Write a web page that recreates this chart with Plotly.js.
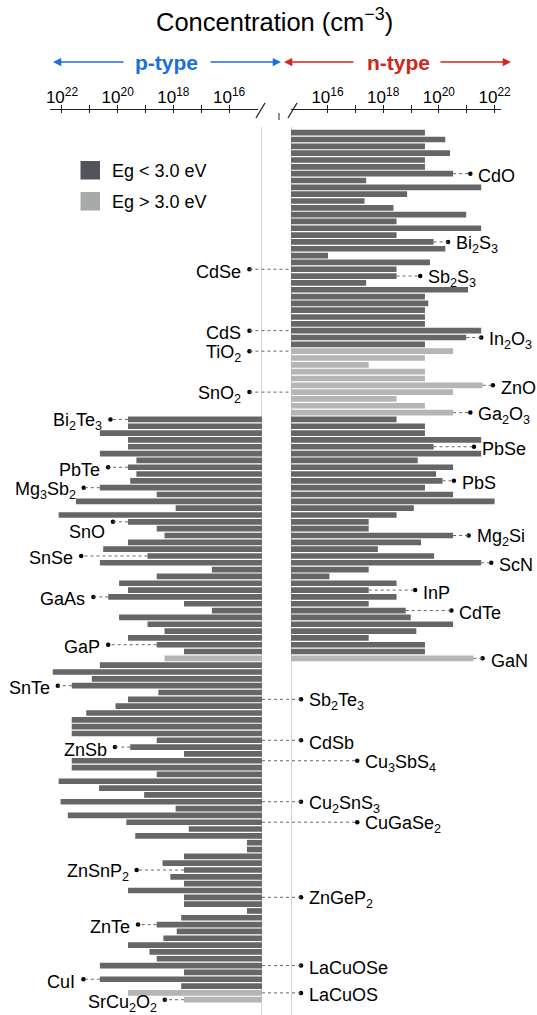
<!DOCTYPE html>
<html><head><meta charset="utf-8">
<script src="https://cdn.plot.ly/plotly-3.0.1.min.js"></script>
<style>html,body{margin:0;padding:0;background:#fff}#chart{width:537px;height:1015px}</style>
</head><body><div id="chart"></div>
<script>
// ---------- DATA (log10 of carrier concentration, cm^-3) ----------
// Row numbers run top to bottom (1..128). null = no bar on that side.
const nExp = [
 19.50,20.23,19.50,20.40,19.50,19.50,20.51,17.39,21.52,18.86,
 17.33,18.37,20.98,18.48,21.52,18.48,19.81,20.23,16.02,19.68,
 18.48,18.48,17.39,21.05,19.50,19.62,19.50,19.50,19.50,21.52,
 20.98,19.50,20.51,19.50,17.48,19.50,19.50,21.57,20.51,18.48,
 19.50,20.51,18.48,19.50,19.50,21.52,19.81,21.52,19.24,20.51,
 19.90,20.13,19.50,20.51,22.00,19.10,18.48,17.48,17.48,20.51,
 19.36,17.81,19.83,21.52,17.48,16.07,18.48,17.48,18.48,17.48,
 18.81,18.99,20.51,19.19,17.48,19.50,19.50,21.24,null,null,
 null,null,null,null,null,null,null,null,null,null,
 null,null,null,null,null,null,null,null,null,null,
 null,null,null,null,null,null,null,null,null,null,
 null,null,null,null,null,null,null,null,null,null,
 null,null,null,null,null,null,null,null
];
const pExp = [
 null,null,null,null,null,null,null,null,null,null,
 null,null,null,null,null,null,null,null,null,null,
 null,null,null,null,null,null,null,null,null,null,
 null,null,null,null,null,null,null,null,null,null,
 null,null,19.63,19.63,20.64,19.63,19.63,20.64,19.33,19.63,
 19.33,19.55,20.64,18.60,21.50,17.92,22.12,19.63,18.60,18.32,
 19.63,20.52,18.93,20.64,16.62,18.60,19.95,19.63,20.34,17.62,
 16.62,19.95,18.93,18.32,19.63,18.60,17.62,18.32,20.64,22.33,
 20.93,21.65,18.54,19.63,20.08,21.13,21.65,21.65,21.65,18.60,
 19.55,17.62,21.65,21.65,18.60,22.12,20.67,19.05,22.05,17.92,
 21.79,19.69,17.45,19.37,15.36,15.36,17.62,18.39,17.62,18.11,
 17.62,19.63,17.62,17.62,15.36,17.72,18.60,17.88,18.36,19.63,
 18.86,18.60,20.64,17.62,20.64,17.72,19.63,17.62
];
// rows whose material has Eg > 3.0 eV
const wideGapRows = [33,34,35,36,37,38,39,40,41,42,78,127,128];

// axis ticks (exponents)
const labelTickExp = [16,18,20,22];
const labelTickText = labelTickExp.map(e => '10<sup>' + e + '</sup>');
const minorTickExp = [17,19,21];
const allTickExp = [16,17,18,19,20,21,22];

// labelled materials
const labelNames = [
 'CdO','Bi<sub>2</sub>S<sub>3</sub>','Sb<sub>2</sub>S<sub>3</sub>','In<sub>2</sub>O<sub>3</sub>','ZnO',
 'Ga<sub>2</sub>O<sub>3</sub>','PbSe','PbS','Mg<sub>2</sub>Si','ScN','InP','CdTe','GaN',
 'CdSe','CdS','TiO<sub>2</sub>','SnO<sub>2</sub>',
 'Bi<sub>2</sub>Te<sub>3</sub>','PbTe','Mg<sub>3</sub>Sb<sub>2</sub>','SnO','SnSe','GaAs','GaP','SnTe',
 'ZnSb','ZnSnP<sub>2</sub>','ZnTe','CuI','SrCu<sub>2</sub>O<sub>2</sub>',
 'Sb<sub>2</sub>Te<sub>3</sub>','CdSb','Cu<sub>3</sub>SbS<sub>4</sub>','Cu<sub>2</sub>SnS<sub>3</sub>',
 'CuGaSe<sub>2</sub>','ZnGeP<sub>2</sub>','LaCuOSe','LaCuOS'
];
const labelRows = [
 7,17,22,31,38,42,47,52,60,64,68,71,78,
 21,30,33,39,
 43,50,53,58,63,69,76,82,91,109,117,125,128,
 84,90,93,99,102,113,123,127
];

// ---------- STYLE (label placement) ----------
// side: nR = n bar, text right; nL = n bar, text left; pL = p bar, text left; pR = p bar, text right
const labelSide = [
 'nR','nR','nR','nR','nR','nR','nR','nR','nR','nR','nR','nR','nR',
 'nL','nL','nL','nL',
 'pL','pL','pL','pL','pL','pL','pL','pL','pL','pL','pL','pL','pL',
 'pR','pR','pR','pR','pR','pR','pR','pR'
];
// leader end (dot) position, in exponent units of the axis on that side
const labelDot = [
 21.13,20.33,19.33,21.52,21.94,21.13,21.26,20.54,21.07,21.88,19.15,20.45,21.57,
 15.27,15.27,15.27,15.27,
 20.26,20.34,21.22,20.17,21.31,20.87,20.34,22.15,20.10,19.32,19.27,21.23,18.31,
 15.05,15.05,17.07,15.05,17.07,15.05,15.05,15.05
];
const labelDy = labelNames.map((n,i) => labelRows[i]===58 && labelSide[i]==='pL' ? -8 : (labelRows[i]===128 ? -1 : 0));

const W = 537, H = 1015, T = 110;
const FONT = 'Liberation Sans, Arial, Helvetica, sans-serif';
const L_DOM = [50, 262], R_DOM = [291, 500.7];
const L_RANGE = [22.43, 14.82], R_RANGE = [14.69, 22.22];
const baseL = L_RANGE[1], baseR = R_RANGE[0];
const DARK = '#666666', LIGHT = '#b5b5b5';

function pxL(e){ return L_DOM[0] + (e - L_RANGE[0]) / (L_RANGE[1] - L_RANGE[0]) * (L_DOM[1] - L_DOM[0]); }
function pxR(e){ return R_DOM[0] + (e - R_RANGE[0]) / (R_RANGE[1] - R_RANGE[0]) * (R_DOM[1] - R_DOM[0]); }
const px = v => v / W;
const py = v => (H - v) / (H - T);

const rowIdx = nExp.map((_, i) => i + 1);
const colors = rowIdx.map(r => wideGapRows.includes(r) ? LIGHT : DARK);

const traces = [
 {type:'bar', orientation:'h', xaxis:'x', yaxis:'y', y: rowIdx,
  x: pExp.map(v => v == null ? null : v - baseL), base: baseL,
  marker:{color: colors, line:{width:0}}, hoverinfo:'skip', showlegend:false},
 {type:'bar', orientation:'h', xaxis:'x2', yaxis:'y', y: rowIdx,
  x: nExp.map(v => v == null ? null : v - baseR), base: baseR,
  marker:{color: colors, line:{width:0}}, hoverinfo:'skip', showlegend:false},
 {type:'scatter', mode:'markers', xaxis:'x3', yaxis:'y', x:[null], y:[null], hoverinfo:'skip', showlegend:false},
 {type:'scatter', mode:'markers', xaxis:'x4', yaxis:'y', x:[null], y:[null], hoverinfo:'skip', showlegend:false}
];

const shapes = [];
const annotations = [];
const dotsL = {x:[], y:[]}, dotsR = {x:[], y:[]};
const leader = {type:'line', line:{color:'#666', width:1, dash:'dot'}, layer:'above'};

labelNames.forEach((name, i) => {
  const r = labelRows[i], side = labelSide[i], d = labelDot[i];
  const ann = {text:name, y:r, yref:'y', showarrow:false, yshift:-2.5 + labelDy[i],
               font:{size:18, color:'#000', family:FONT}};
  if (side === 'nR') {
    shapes.push(Object.assign({}, leader, {xref:'x2', yref:'y', x0:nExp[r-1], x1:d, y0:r, y1:r}));
    dotsR.x.push(d); dotsR.y.push(r);
    Object.assign(ann, {xref:'x2', x:d, xanchor:'left', xshift:6});
  } else if (side === 'pL') {
    shapes.push(Object.assign({}, leader, {xref:'x', yref:'y', x0:pExp[r-1], x1:d, y0:r, y1:r}));
    dotsL.x.push(d); dotsL.y.push(r);
    Object.assign(ann, {xref:'x', x:d, xanchor:'right', xshift:-6});
  } else if (side === 'nL') {
    shapes.push(Object.assign({}, leader, {xref:'paper', yref:'y', x0:px(pxL(d)), x1:px(pxR(baseR)), y0:r, y1:r}));
    dotsL.x.push(d); dotsL.y.push(r);
    Object.assign(ann, {xref:'x', x:d, xanchor:'right', xshift:-6});
  } else {
    shapes.push(Object.assign({}, leader, {xref:'paper', yref:'y', x0:px(pxL(baseL)), x1:px(pxR(d)), y0:r, y1:r}));
    dotsR.x.push(d); dotsR.y.push(r);
    Object.assign(ann, {xref:'x2', x:d, xanchor:'left', xshift:6});
  }
  annotations.push(ann);
});

traces.push({type:'scatter', mode:'markers', xaxis:'x', yaxis:'y', x:dotsL.x, y:dotsL.y,
  marker:{color:'#000', size:4.5}, hoverinfo:'skip', showlegend:false, cliponaxis:false});
traces.push({type:'scatter', mode:'markers', xaxis:'x2', yaxis:'y', x:dotsR.x, y:dotsR.y,
  marker:{color:'#000', size:4.5}, hoverinfo:'skip', showlegend:false, cliponaxis:false});

// vertical guide lines
shapes.push({type:'line', xref:'x', yref:'paper', x0:baseL, x1:baseL, y0:0, y1:py(127), line:{color:'#c8c8c8', width:1.5}, layer:'below'});
shapes.push({type:'line', xref:'x2', yref:'paper', x0:baseR, x1:baseR, y0:0, y1:py(127), line:{color:'#c8c8c8', width:1.5}, layer:'below'});
// axis break marks
const axc = '#222';
shapes.push({type:'rect', xref:'paper', yref:'paper', x0:px(258), x1:px(263), y0:py(111.5), y1:py(108.5), fillcolor:'#fff', line:{width:0}});
shapes.push({type:'line', xref:'paper', yref:'paper', x0:px(256), y0:py(118), x1:px(265), y1:py(103), line:{color:axc, width:1.3}});
shapes.push({type:'line', xref:'paper', yref:'paper', x0:px(288), y0:py(118), x1:px(297), y1:py(103), line:{color:axc, width:1.3}});
shapes.push({type:'line', xref:'paper', yref:'paper', x0:px(279), y0:py(113), x1:px(279), y1:py(120), line:{color:axc, width:1}});

// legend
shapes.push({type:'rect', xref:'paper', yref:'paper', x0:px(80.5), x1:px(100), y0:py(179.5), y1:py(161), fillcolor:'#50555c', line:{width:0}});
shapes.push({type:'rect', xref:'paper', yref:'paper', x0:px(80.5), x1:px(100), y0:py(210.5), y1:py(192), fillcolor:'#a7aaa9', line:{width:0}});
annotations.push({xref:'paper', yref:'paper', x:px(110), y:py(171), xanchor:'left', yanchor:'middle', showarrow:false,
  text:'Eg < 3.0 eV', font:{size:18, family:FONT, color:'#000'}});
annotations.push({xref:'paper', yref:'paper', x:px(110), y:py(202), xanchor:'left', yanchor:'middle', showarrow:false,
  text:'Eg > 3.0 eV', font:{size:18, family:FONT, color:'#000'}});

// title and type headers
annotations.push({xref:'paper', yref:'paper', x:px(274), y:py(20), xanchor:'center', yanchor:'middle', showarrow:false,
  text:'Concentration (cm<sup>\u22123</sup>)', font:{size:25.5, family:FONT, color:'#000'}});
const BLUE = '#1b6fd8', RED = '#d0261c';
annotations.push({xref:'paper', yref:'paper', x:px(166), y:py(63), xanchor:'center', yanchor:'middle', showarrow:false,
  text:'<b>p-type</b>', font:{size:21, family:FONT, color:BLUE}});
annotations.push({xref:'paper', yref:'paper', x:px(398), y:py(63), xanchor:'center', yanchor:'middle', showarrow:false,
  text:'<b>n-type</b>', font:{size:21, family:FONT, color:RED}});
function arrow(x0, x1, col){
  annotations.push({xref:'paper', yref:'paper', axref:'paper', ayref:'paper', x:px(x1), y:py(62), ax:px(x0), ay:py(62),
    text:'', showarrow:true, arrowhead:2, arrowsize:1.1, arrowwidth:1.5, arrowcolor:col, standoff:0, startstandoff:0});
}
arrow(125, 53, BLUE); arrow(209, 281, BLUE); arrow(355, 284, RED); arrow(439, 511, RED);

const axBase = {side:'top', anchor:'y', showgrid:false, zeroline:false, showline:true, linecolor:axc, linewidth:1,
  ticks:'outside', ticklen:4, tickwidth:1, tickcolor:axc, tickmode:'array', tickvals:labelTickExp, ticktext:labelTickText,
  ticklabelstandoff:-5,
  minor:{tickmode:'array', tickvals:minorTickExp, ticks:'outside', ticklen:4, tickwidth:1, tickcolor:axc, showgrid:false},
  tickfont:{size:17, family:FONT, color:'#000'}, fixedrange:true};
const axOver = {side:'top', anchor:'y', showgrid:false, zeroline:false, showline:false,
  ticks:'inside', ticklen:3, tickwidth:1, tickcolor:axc, tickmode:'array', tickvals:allTickExp, showticklabels:false, fixedrange:true};

const layout = {
  width:W, height:H, margin:{l:0, r:0, t:T, b:0, pad:0},
  paper_bgcolor:'#fff', plot_bgcolor:'rgba(0,0,0,0)',
  showlegend:false, barmode:'overlay', bargap:0.17,
  font:{family:FONT, color:'#000'},
  xaxis: Object.assign({}, axBase, {domain:[px(L_DOM[0]), px(L_DOM[1])], range:L_RANGE}),
  xaxis2: Object.assign({}, axBase, {domain:[px(R_DOM[0]), px(R_DOM[1])], range:R_RANGE}),
  xaxis3: Object.assign({}, axOver, {overlaying:'x', range:L_RANGE}),
  xaxis4: Object.assign({}, axOver, {overlaying:'x2', range:R_RANGE}),
  yaxis: {range:[130.24, -2.325], visible:false, fixedrange:true},
  shapes, annotations
};
Plotly.newPlot('chart', traces, layout, {displayModeBar:false, staticPlot:true});
</script></body></html>
